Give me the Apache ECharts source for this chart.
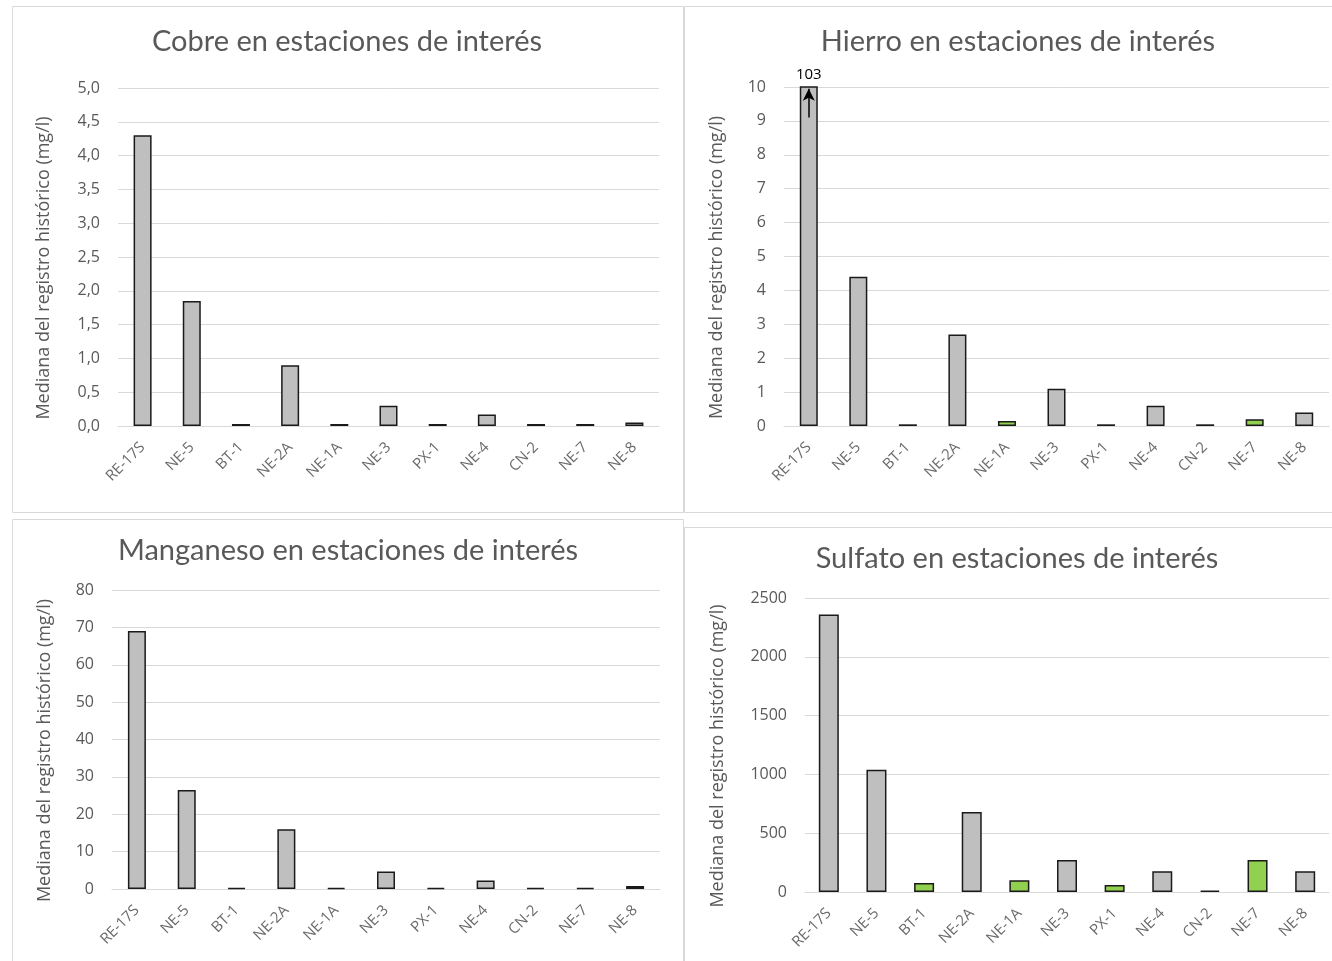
<!DOCTYPE html>
<html>
<head>
<meta charset="utf-8">
<script src="https://cdn.jsdelivr.net/npm/echarts@6/dist/echarts.min.js"></script>
<style>
  html, body { margin: 0; padding: 0; background: #ffffff; }
  #chart { width: 1332px; height: 961px; }
</style>
</head>
<body>
<div id="chart"></div>
<script>
// Stations sampled (same order in all four panels)
const stations = ['RE-17S', 'NE-5', 'BT-1', 'NE-2A', 'NE-1A', 'NE-3', 'PX-1', 'NE-4', 'CN-2', 'NE-7', 'NE-8'];

// Historical median per station (mg/l)
const cobre     = [4.3, 1.85, 0.03, 0.9, 0.03, 0.3, 0.03, 0.17, 0.03, 0.03, 0.05];
const hierro    = [103, 4.4, 0.05, 2.7, 0.15, 1.1, 0.05, 0.6, 0.05, 0.2, 0.4];
const manganeso = [69, 26.5, 0.3, 16, 0.3, 4.7, 0.3, 2.3, 0.3, 0.3, 0.8];
const sulfato   = [2360, 1040, 77, 680, 100, 272, 60, 176, 12, 272, 176];

// Stations shown in green in each panel
const hierroGreen  = ['NE-1A', 'NE-7'];
const sulfatoGreen = ['BT-1', 'NE-1A', 'PX-1', 'NE-7'];

// Y axis ranges: [max, interval]
const cobreAxis     = [5, 0.5];
const hierroAxis    = [10, 1];
const manganesoAxis = [80, 10];
const sulfatoAxis   = [2500, 500];

const titles = [
  'Cobre en estaciones de interés',
  'Hierro en estaciones de interés',
  'Manganeso en estaciones de interés',
  'Sulfato en estaciones de interés'
];
const yName = 'Mediana del registro histórico (mg/l)';

const TITLE_FONT = 'Lato';
const FONT = 'Open Sans';
const TXT = '#595959';
const GREY = '#bfbfbf';
const GREEN = '#92d050';

const grids = [
  { left: 118, top: 88,  width: 541, height: 338 },
  { left: 784, top: 87,  width: 545, height: 339 },
  { left: 112, top: 590, width: 548, height: 299 },
  { left: 805, top: 598, width: 524, height: 294 }
];
const titlePos = [
  { left: 347,  top: 42 },
  { left: 1018, top: 42 },
  { left: 348,  top: 551 },
  { left: 1017, top: 559 }
];
const nameGaps = [65, 58, 58, 78];
const decimals = [1, 0, 0, 0];
const axes = [cobreAxis, hierroAxis, manganesoAxis, sulfatoAxis];
const values = [cobre, hierro, manganeso, sulfato];
const greens = [[], hierroGreen, [], sulfatoGreen];

function barData(vals, green) {
  return vals.map((v, i) => ({
    value: v,
    itemStyle: { color: green.includes(stations[i]) ? GREEN : GREY }
  }));
}

const option = {
  animation: false,
  backgroundColor: '#ffffff',
  textStyle: { fontFamily: FONT },
  title: titles.map((t, i) => ({
    text: t,
    left: titlePos[i].left,
    top: titlePos[i].top,
    padding: 0,
    textAlign: 'center',
    textVerticalAlign: 'middle',
    textStyle: { fontFamily: TITLE_FONT, fontSize: 29, fontWeight: 'normal', color: TXT }
  })),
  grid: grids,
  xAxis: grids.map((g, i) => ({
    type: 'category',
    gridIndex: i,
    data: stations,
    axisLine: { show: true, lineStyle: { color: '#d9d9d9', width: 1 } },
    axisTick: { show: false },
    axisLabel: { rotate: 45, fontFamily: FONT, fontSize: 15, color: '#6b6b6b', margin: 19, interval: 0 }
  })),
  yAxis: grids.map((g, i) => ({
    type: 'value',
    gridIndex: i,
    min: 0,
    max: axes[i][0],
    interval: axes[i][1],
    name: yName,
    nameLocation: 'middle',
    nameGap: nameGaps[i],
    nameTextStyle: { fontFamily: FONT, fontSize: 18, color: TXT, padding: [0, 22, 0, 0] },
    axisLine: { show: false },
    axisTick: { show: false },
    axisLabel: {
      fontFamily: FONT, fontSize: 16, color: TXT, margin: 18,
      formatter: v => v.toFixed(decimals[i]).replace('.', ',')
    },
    splitLine: { show: true, lineStyle: { color: '#d9d9d9', width: 1 } }
  })),
  series: values.map((vals, i) => {
    const s = {
      type: 'bar',
      xAxisIndex: i,
      yAxisIndex: i,
      barWidth: i === 3 ? 20 : 18,
      clip: true,
      itemStyle: { borderColor: '#1a1a1a', borderWidth: 1.5 },
      data: barData(vals, greens[i])
    };
    if (i === 1) {
      // value above the axis range is written over the cut bar
      s.data[0].label = {
        show: true, position: 'top', distance: 4,
        fontFamily: FONT, fontSize: 15, color: '#000000',
        formatter: p => String(p.value)
      };
      s.markLine = {
        silent: true,
        symbol: ['none', 'arrow'],
        symbolSize: [9, 12],
        label: { show: false },
        lineStyle: { color: '#000000', width: 1.5, type: 'solid' },
        data: [[{ coord: [stations[0], 9.1] }, { coord: [stations[0], 9.95] }]]
      };
    }
    return s;
  }),
  graphic: [
    { type: 'rect', shape: { x: 12.5, y: 6.5, width: 671, height: 506 }, style: { fill: null, stroke: '#d9d9d9', lineWidth: 1 } },
    { type: 'rect', shape: { x: 684.5, y: 6.5, width: 660, height: 506 }, style: { fill: null, stroke: '#d9d9d9', lineWidth: 1 } },
    { type: 'rect', shape: { x: 12.5, y: 519.5, width: 671, height: 460 }, style: { fill: null, stroke: '#d9d9d9', lineWidth: 1 } },
    { type: 'rect', shape: { x: 684.5, y: 527.5, width: 660, height: 460 }, style: { fill: null, stroke: '#d9d9d9', lineWidth: 1 } }
  ]
};

const chart = echarts.init(document.getElementById('chart'), null, { renderer: 'canvas' });
chart.setOption(option);
</script>
</body>
</html>
